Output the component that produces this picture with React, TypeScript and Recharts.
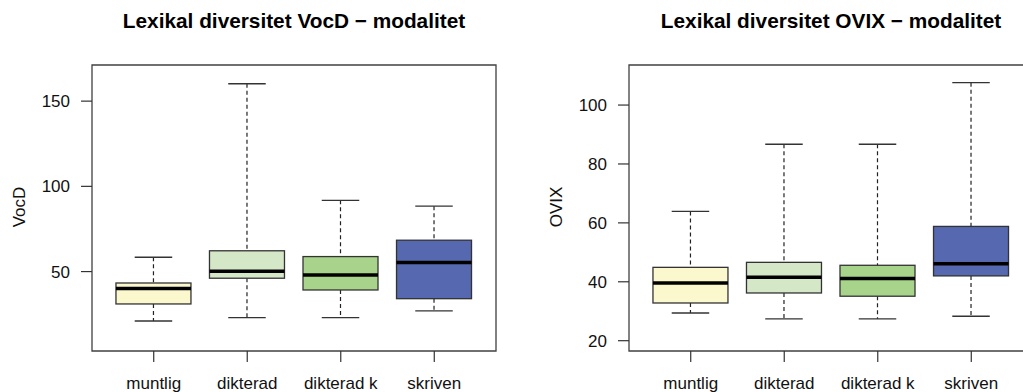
import React from "react";
import { ComposedChart, Bar, XAxis, YAxis, ReferenceArea } from "recharts";

const categories = ["muntlig", "dikterad", "dikterad k", "skriven"];
const positions = [1, 2, 3, 4];
const fills = ["#FAF8CC", "#D4E8C8", "#A8D38A", "#5568B0"];

// VocD: [min, q1, median, q3, max]
const vocdMin = [21, 23, 23, 27];
const vocdQ1 = [31, 46.1, 39.2, 34.1];
const vocdMed = [40, 50.2, 48, 55.3];
const vocdQ3 = [43.3, 62.2, 58.8, 68.4];
const vocdMax = [58.4, 160.2, 91.8, 88.4];

// OVIX
const ovixMin = [29.4, 27.4, 27.4, 28.3];
const ovixQ1 = [32.8, 36.2, 35.1, 42];
const ovixMed = [39.6, 41.5, 41.1, 46.1];
const ovixQ3 = [44.9, 46.6, 45.6, 58.8];
const ovixMax = [63.9, 86.7, 86.7, 107.6];

const vocdTicks = [50, 100, 150];
const ovixTicks = [20, 40, 60, 80, 100];

const build = (mn: number[], q1: number[], md: number[], q3: number[], mx: number[]) =>
  categories.map((name, i) => ({
    name,
    pos: positions[i],
    min: mn[i],
    q1: q1[i],
    med: md[i],
    q3: q3[i],
    max: mx[i],
    fill: fills[i],
  }));

const vocdData = build(vocdMin, vocdQ1, vocdMed, vocdQ3, vocdMax);
const ovixData = build(ovixMin, ovixQ1, ovixMed, ovixQ3, ovixMax);

const FONT = "'Liberation Sans', Arial, Helvetica, sans-serif";
const BORDER = "#404040";

const BoxShape = (props: any) => {
  const { x, y, width, height, payload } = props;
  if (!payload) return null;
  const top = Math.min(y, y + height);
  const bottom = Math.max(y, y + height);
  const { min, q1, med, q3, max, fill } = payload;
  const pix = (v: number) => bottom - ((v - min) / (max - min)) * (bottom - top);
  const cx = x + width / 2;
  const capHalf = width / 4;
  const yQ1 = pix(q1);
  const yQ3 = pix(q3);
  const yMed = pix(med);
  return (
    <g>
      <line x1={cx} x2={cx} y1={top} y2={yQ3} stroke="#222" strokeWidth={1.2} strokeDasharray="4 3" />
      <line x1={cx} x2={cx} y1={yQ1} y2={bottom} stroke="#222" strokeWidth={1.2} strokeDasharray="4 3" />
      <line x1={cx - capHalf} x2={cx + capHalf} y1={top} y2={top} stroke="#333" strokeWidth={1.3} />
      <line x1={cx - capHalf} x2={cx + capHalf} y1={bottom} y2={bottom} stroke="#333" strokeWidth={1.3} />
      <rect x={x} y={yQ3} width={width} height={yQ1 - yQ3} fill={fill} stroke="#333" strokeWidth={1.3} />
      <line x1={x} x2={x + width} y1={yMed} y2={yMed} stroke="#000" strokeWidth={3.5} />
    </g>
  );
};

const tickStyle = { fontSize: 17, fill: "#111", fontFamily: FONT };
const xDomain = [0.34, 4.66];

const Panel = ({ data, domain, ticks, yWidth, width }: any) => (
  <ComposedChart
    width={width}
    height={392}
    data={data}
    margin={{ top: 65, right: 16, bottom: 0, left: 0 }}
  >
    <XAxis
      dataKey="pos"
      type="number"
      domain={xDomain}
      ticks={positions}
      tickFormatter={(v: number) => categories[v - 1]}
      height={41}
      interval={0}
      tickSize={11}
      tickMargin={15}
      tick={tickStyle}
      tickLine={{ stroke: "#333", strokeWidth: 1.2 }}
      axisLine={false}
    />
    <YAxis
      type="number"
      domain={domain}
      ticks={ticks}
      width={yWidth}
      allowDataOverflow
      tickSize={11}
      tickMargin={11}
      tick={tickStyle}
      tickLine={{ stroke: "#333", strokeWidth: 1.2 }}
      axisLine={false}
    />
    <ReferenceArea
      x1={xDomain[0]}
      x2={xDomain[1]}
      y1={domain[0]}
      y2={domain[1]}
      fill="none"
      fillOpacity={0}
      stroke={BORDER}
      strokeWidth={1.3}
      ifOverflow="visible"
    />
    <Bar
      dataKey={(d: any) => [d.min, d.max]}
      shape={BoxShape}
      barSize={75}
      isAnimationActive={false}
    />
  </ComposedChart>
);

export default function App() {
  return (
    <div
      style={{
        position: "absolute",
        left: 0,
        top: 0,
        width: 1023,
        height: 392,
        overflow: "hidden",
        background: "#fff",
        fontFamily: FONT,
      }}
    >
      <div style={{ position: "absolute", left: 0, top: 0 }}>
        <Panel data={vocdData} domain={[3.4, 171.2]} ticks={vocdTicks} yWidth={92} width={512} />
      </div>
      <div style={{ position: "absolute", left: 512, top: 0 }}>
        <Panel data={ovixData} domain={[16.5, 113.6]} ticks={ovixTicks} yWidth={117} width={537} />
      </div>
      <svg
        width={1023}
        height={392}
        style={{ position: "absolute", left: 0, top: 0, pointerEvents: "none" }}
      >
        <text x={294} y={28} textAnchor="middle" fontSize={20.8} fontWeight="bold" fontFamily={FONT} fill="#000">
          Lexikal diversitet VocD − modalitet
        </text>
        <text x={831} y={28} textAnchor="middle" fontSize={20.8} fontWeight="bold" fontFamily={FONT} fill="#000">
          Lexikal diversitet OVIX − modalitet
        </text>
        <text x={25} y={207} textAnchor="middle" fontSize={17} fontFamily={FONT} fill="#111" transform="rotate(-90 25 207)">
          VocD
        </text>
        <text x={562} y={207} textAnchor="middle" fontSize={17} fontFamily={FONT} fill="#111" transform="rotate(-90 562 207)">
          OVIX
        </text>
      </svg>
    </div>
  );
}
